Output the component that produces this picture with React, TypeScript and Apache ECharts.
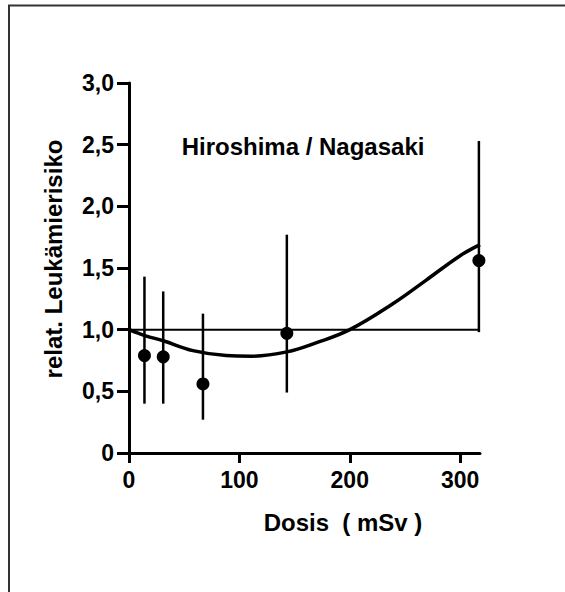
import React, { useEffect, useRef } from "react";
import * as echarts from "echarts";

// Data
const doses = [14, 31, 67, 143, 317];
const risks = [0.79, 0.78, 0.56, 0.97, 1.56];
const lows = [0.4, 0.4, 0.27, 0.49, 0.98];
const highs = [1.43, 1.31, 1.13, 1.77, 2.53];

const curveDoses = [0, 15, 31, 58, 88, 111, 143, 170, 200, 239, 269, 300, 318];
const curveRisks = [1.0, 0.95, 0.91, 0.83, 0.79, 0.785, 0.82, 0.895, 1.0, 1.21, 1.4, 1.6, 1.69];

const refDoses = [0, 318];
const refRisks = [1.0, 1.0];

const xTicks = [0, 100, 200, 300];

const FONT = "'Liberation Sans', Arial, sans-serif";

export default function App() {
  const ref = useRef<HTMLDivElement>(null);
  useEffect(() => {
    document.body.style.margin = "0";
    if (!ref.current) return;
    const chart = echarts.init(ref.current, null, { renderer: "svg" });
    const option: any = {
      animation: false,
      backgroundColor: "#fff",
      grid: { left: 129, right: 85, top: 83, bottom: 139, containLabel: false, outerBoundsMode: "none" },
      xAxis: {
        type: "value",
        min: 0,
        max: 318,
        interval: 100,
        splitLine: { show: false },
        axisLine: { show: true, onZero: false, lineStyle: { color: "#000", width: 3 } },
        axisTick: { show: true, length: 10, lineStyle: { color: "#000", width: 3 }, customValues: xTicks },
        axisLabel: {
          customValues: xTicks,
          margin: 15,
          color: "#000",
          fontFamily: FONT,
          fontWeight: "bold",
          fontSize: 23,
        },
      },
      yAxis: {
        type: "value",
        min: 0,
        max: 3,
        interval: 0.5,
        splitLine: { show: false },
        axisLine: { show: true, onZero: false, lineStyle: { color: "#000", width: 3 } },
        axisTick: { show: true, length: 12, lineStyle: { color: "#000", width: 3 } },
        axisLabel: {
          margin: 15,
          color: "#000",
          fontFamily: FONT,
          fontWeight: "bold",
          fontSize: 23,
          formatter: (v: number) => (v === 0 ? "0" : v.toFixed(1).replace(".", ",")),
        },
      },
      series: [
        {
          type: "line",
          data: refDoses.map((d, i) => [d, refRisks[i]]),
          showSymbol: false,
          symbol: "none",
          lineStyle: { color: "#000", width: 2 },
          z: 2,
        },
        {
          type: "line",
          data: curveDoses.map((d, i) => [d, curveRisks[i]]),
          smooth: 0.4,
          showSymbol: false,
          symbol: "none",
          lineStyle: { color: "#000", width: 3.5 },
          z: 3,
        },
        {
          type: "custom",
          data: doses.map((d, i) => [d, lows[i], highs[i]]),
          renderItem: (params: any, api: any) => {
            const p1 = api.coord([api.value(0), api.value(1)]);
            const p2 = api.coord([api.value(0), api.value(2)]);
            return {
              type: "line",
              shape: { x1: p1[0], y1: p1[1], x2: p2[0], y2: p2[1] },
              style: { stroke: "#000", lineWidth: 2.5 },
            };
          },
          z: 4,
        },
        {
          type: "scatter",
          data: doses.map((d, i) => [d, risks[i]]),
          symbol: "circle",
          symbolSize: 13,
          itemStyle: { color: "#000", opacity: 1 },
          z: 5,
        },
      ],
      graphic: [
        {
          type: "line",
          shape: { x1: 9, y1: 5, x2: 9, y2: 592 },
          style: { stroke: "#333", lineWidth: 2 },
        },
        {
          type: "line",
          shape: { x1: 8, y1: 5.5, x2: 565, y2: 5.5 },
          style: { stroke: "#333", lineWidth: 2 },
        },
        {
          type: "text",
          x: 303,
          y: 146,
          style: {
            text: "Hiroshima / Nagasaki",
            fill: "#000",
            font: `bold 24px ${FONT}`,
            textAlign: "center",
            textVerticalAlign: "middle",
          },
        },
        {
          type: "text",
          x: 343,
          y: 522,
          style: {
            text: "Dosis  ( mSv )",
            fill: "#000",
            font: `bold 24px ${FONT}`,
            textAlign: "center",
            textVerticalAlign: "middle",
          },
        },
        {
          type: "text",
          x: 53,
          y: 259,
          rotation: Math.PI / 2,
          style: {
            text: "relat. Leukämierisiko",
            fill: "#000",
            font: `bold 24px ${FONT}`,
            textAlign: "center",
            textVerticalAlign: "middle",
          },
        },
      ],
    };
    chart.setOption(option);
    return () => chart.dispose();
  }, []);
  return <div ref={ref} style={{ width: 565, height: 592 }} />;
}
